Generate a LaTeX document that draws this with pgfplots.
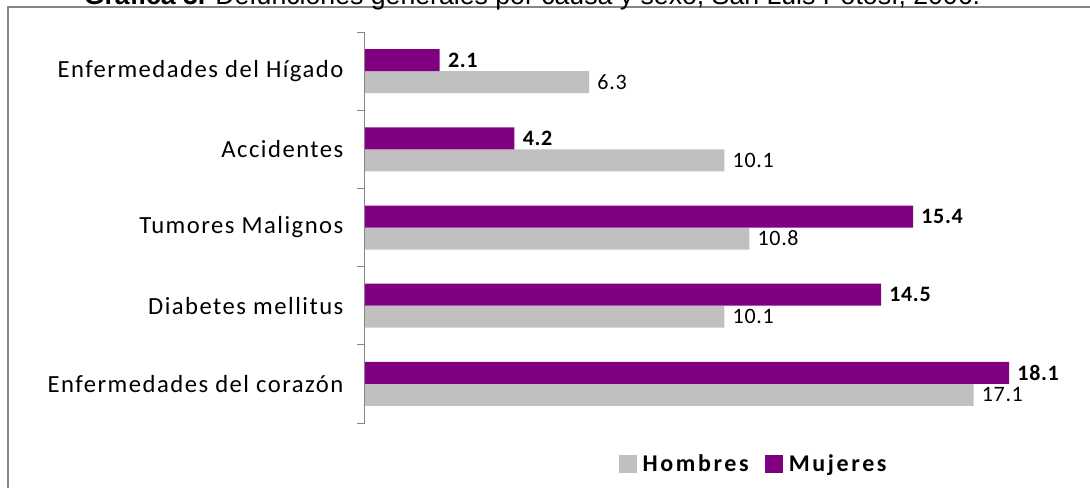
\documentclass[border=0pt]{standalone}
\usepackage{fontspec}
\setmainfont{Carlito}
\newfontfamily\titlefont{Liberation Sans}
\newfontfamily\lblfont[LetterSpace=6]{Carlito}
\newfontfamily\legfont[LetterSpace=11]{Carlito}
\newfontfamily\valfont[LetterSpace=3]{Carlito}
\usepackage{pgfplots}
\pgfplotsset{compat=1.18}
\definecolor{mujer}{HTML}{800080}
\definecolor{hombre}{HTML}{C0C0C0}
\definecolor{framegray}{HTML}{868686}

\begin{document}
\begin{tikzpicture}
% outer frame (only the top and left edges are in view)
\draw[framegray, line width=1.5pt] (6pt,-10pt) -- (6pt,360pt) -- (830pt,360pt);
\node[anchor=base, inner sep=0pt, font=\titlefont\fontsize{20}{23}\selectfont]
  at (399pt,361.5pt) {\textbf{Gráfica 3.} Defunciones generales por causa y sexo, San Luis Potosí, 2006.};

\begin{axis}[
  at={(273.75pt,48pt)}, anchor=south west,
  scale only axis, width=543.75pt, height=293.25pt,
  xbar, bar width=16.5pt,
  xmin=0, xmax=20.37,
  ymin=-0.5, ymax=4.5,
  clip=false,
  axis line style={draw=none},
  xtick=\empty,
  ytick={0,1,2,3,4},
  yticklabels={Enfermedades del corazón, Diabetes mellitus, Tumores Malignos, Accidentes, Enfermedades del Hígado},
  major tick length=0pt,
  yticklabel style={font=\lblfont\fontsize{18.5}{22}\selectfont, text=black, inner sep=0pt},
  yticklabel shift=16pt,
  extra y ticks={-0.5,0.5,1.5,2.5,3.5,4.5},
  extra y tick labels={},
  extra y tick style={major tick length=6pt, tick align=outside,
    tick style={framegray, line width=0.75pt}},
  point meta=x,
  nodes near coords={\pgfmathprintnumber[fixed, precision=1, assume math mode=true]{\pgfplotspointmeta}},
  nodes near coords style={anchor=west, inner sep=0pt, xshift=6pt, text=black},
  legend columns=2,
  legend image code/.code={\fill[#1] (0pt,-6.75pt) rectangle (13.5pt,6.75pt);},
  legend style={at={(0.3503,-0.1061)}, anchor=west, draw=none, fill=none,
    inner sep=0pt, font=\legfont\bfseries\fontsize{18}{21}\selectfont,
    nodes={inner sep=0pt},
    /tikz/every odd column/.append style={column sep=4pt},
    /tikz/every even column/.append style={column sep=12.5pt}},
]
\addplot[fill=hombre, draw=none, bar shift=-8.25pt,
  every node near coord/.append style={font=\valfont\fontsize{16.5}{19}\selectfont}]
  coordinates {(17.1,0) (10.1,1) (10.8,2) (10.1,3) (6.3,4)};
\addlegendentry{Hombres}
\addplot[fill=mujer, draw=none, bar shift=8.25pt,
  every node near coord/.append style={font=\valfont\bfseries\fontsize{16.5}{19}\selectfont}]
  coordinates {(18.1,0) (14.5,1) (15.4,2) (4.2,3) (2.1,4)};
\addlegendentry{Mujeres}
\draw[framegray, line width=0.75pt] (rel axis cs:0,0) -- (rel axis cs:0,1);
\end{axis}

\pgfresetboundingbox
\useasboundingbox (0,0) rectangle (817.5pt,365.25pt);
\end{tikzpicture}
\end{document}
